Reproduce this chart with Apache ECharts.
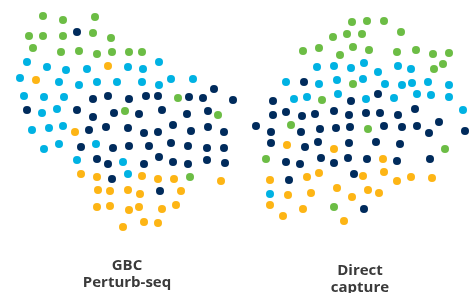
<!DOCTYPE html>
<html>
<head>
<meta charset="utf-8">
<script src="https://cdn.jsdelivr.net/npm/echarts@6/dist/echarts.min.js"></script>
<style>
  html, body { margin: 0; padding: 0; background: #fff; }
  #chart { width: 470px; height: 293px; }
</style>
</head>
<body>
<div id="chart"></div>
<script>
// 点位数据 (x, y) —— 两个细胞簇
const greenPts = [
  [43,16],[63,20],[95,17],[29,36],[43,36],[63,36],[93,33],[111,38],[33,48],[61,52],[79,51],[97,54],
  [112,52],[129,52],[142,52],[125,111],[178,98],[218,115],[190,177],
  [352,22],[367,21],[384,21],[333,37],[347,34],[362,34],[401,32],[303,51],[319,48],[340,55],[353,47],
  [369,50],[397,52],[416,50],[433,54],[449,53],[443,64],[434,69],[353,84],[322,100],[291,125],[266,159],
  [334,207],[368,129],[445,149]
];
const navyPts = [
  [77,32],[93,99],[108,96],[27,110],[77,110],[93,117],[114,113],[129,99],[146,96],[158,96],[189,97],
  [203,98],[214,89],[233,100],[139,114],[162,110],[187,114],[208,111],[89,130],[106,127],[81,147],
  [113,148],[97,159],[108,164],[112,179],[128,128],[144,133],[158,132],[173,125],[191,131],[208,127],
  [224,132],[129,146],[149,146],[171,143],[188,146],[207,148],[224,148],[144,164],[159,157],[173,162],
  [188,164],[207,160],[225,163],[160,191],
  [304,82],[273,101],[351,101],[378,94],[273,115],[286,112],[302,116],[315,114],[334,111],[349,115],
  [366,113],[380,113],[398,115],[415,109],[439,122],[256,126],[271,132],[301,132],[320,129],[336,128],
  [350,127],[384,126],[402,127],[417,126],[429,133],[465,131],[271,143],[305,147],[318,142],[349,143],
  [376,142],[400,144],[286,162],[300,164],[321,158],[334,163],[348,158],[367,159],[397,161],[430,159],
  [289,180],[354,174],[364,209]
];
const cyanPts = [
  [27,62],[47,67],[66,70],[87,69],[20,78],[59,82],[79,85],[97,82],[117,82],[24,96],[44,97],[64,97],
  [42,113],[57,109],[128,67],[143,69],[159,62],[142,82],[159,85],[171,79],[193,79],[32,130],[49,128],
  [63,126],[44,149],[59,144],[77,160],[96,144],[123,162],[128,174],
  [317,67],[334,66],[351,68],[286,82],[319,84],[337,80],[338,94],[294,99],[307,97],[364,63],[378,72],
  [398,66],[411,69],[363,79],[385,84],[402,85],[412,83],[428,82],[449,85],[366,99],[394,98],[417,94],
  [431,95],[449,97],[463,110],[270,194]
];
const orangePts = [
  [108,66],[36,80],[75,132],[81,174],[97,177],[98,190],[110,191],[97,207],[110,206],[142,176],[158,179],
  [174,179],[221,181],[128,190],[140,194],[181,191],[129,210],[139,207],[162,209],[176,205],[123,227],
  [144,222],[158,223],
  [287,145],[334,149],[383,159],[270,180],[307,177],[319,173],[363,176],[384,172],[397,181],[411,177],
  [432,178],[288,195],[311,193],[337,188],[352,197],[368,190],[379,193],[270,205],[303,209],[283,216],
  [344,221]
];
const groupLabels = ['GBC\nPerturb-seq', 'Direct\ncapture'];

const chart = echarts.init(document.getElementById('chart'));

function dots(data, color) {
  return {
    type: 'scatter',
    data: data,
    symbol: 'circle',
    symbolSize: 8,
    itemStyle: { color: color, opacity: 1 },
    emphasis: { scale: false },
    silent: true
  };
}

function label(text, x, y) {
  return {
    type: 'text',
    style: {
      x: x, y: y, text: text,
      fill: '#3a3a3a', font: 'bold 15px "Open Sans"',
      align: 'center', verticalAlign: 'top', lineHeight: 17
    }
  };
}

const option = {
  animation: false,
  grid: { left: 0, right: 0, top: 0, bottom: 0 },
  xAxis: { type: 'value', min: 0, max: 470, show: false },
  yAxis: { type: 'value', min: 0, max: 293, inverse: true, show: false },
  series: [
    dots(greenPts, '#6cbd45'),
    dots(cyanPts, '#00b2e3'),
    dots(orangePts, '#fdb515'),
    dots(navyPts, '#002b5c')
  ],
  graphic: [
    label(groupLabels[0], 127, 257),
    label(groupLabels[1], 360, 262)
  ]
};

chart.setOption(option);
</script>
</body>
</html>
